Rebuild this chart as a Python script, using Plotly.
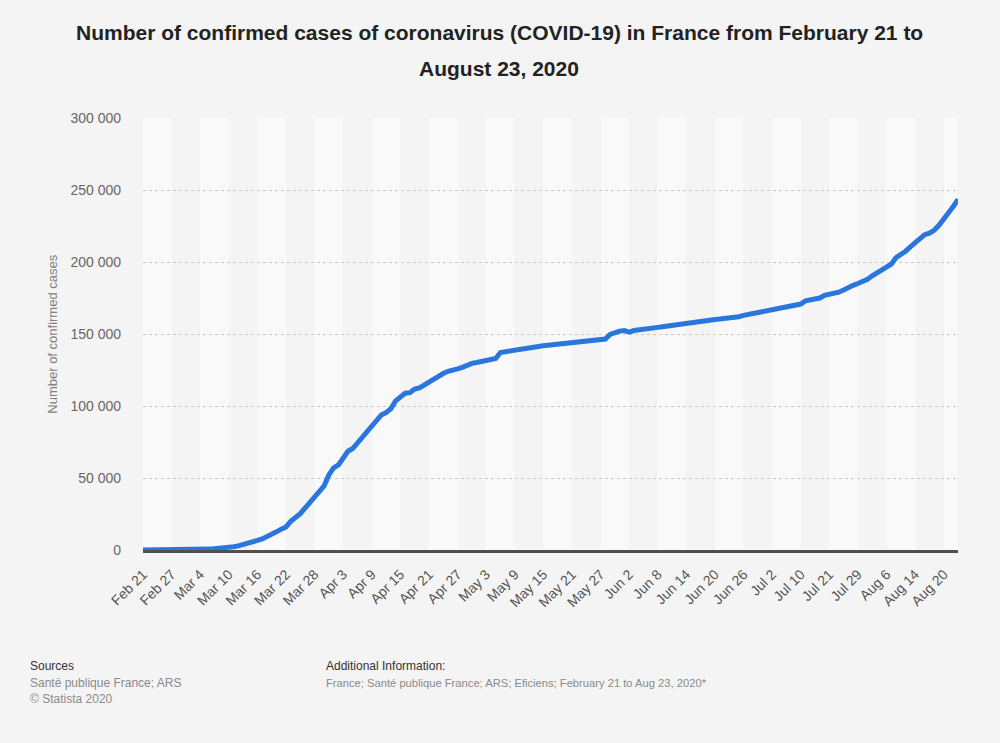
import plotly.graph_objects as go

dates = [
    "Feb 21", "Feb 22", "Feb 23", "Feb 24", "Feb 25", "Feb 26", "Feb 27", "Feb 28", "Feb 29",
    "Mar 1", "Mar 2", "Mar 3", "Mar 4", "Mar 5", "Mar 6", "Mar 7", "Mar 8", "Mar 9", "Mar 10",
    "Mar 11", "Mar 12", "Mar 13", "Mar 14", "Mar 15", "Mar 16", "Mar 17", "Mar 18", "Mar 19", "Mar 20",
    "Mar 21", "Mar 22", "Mar 23", "Mar 24", "Mar 25", "Mar 26", "Mar 27", "Mar 28", "Mar 29", "Mar 30", "Mar 31",
    "Apr 1", "Apr 2", "Apr 3", "Apr 4", "Apr 5", "Apr 6", "Apr 7", "Apr 8", "Apr 9", "Apr 10",
    "Apr 11", "Apr 12", "Apr 13", "Apr 14", "Apr 15", "Apr 16", "Apr 17", "Apr 18", "Apr 19", "Apr 20",
    "Apr 21", "Apr 22", "Apr 23", "Apr 24", "Apr 25", "Apr 26", "Apr 27", "Apr 28", "Apr 29", "Apr 30",
    "May 1", "May 2", "May 3", "May 4", "May 5", "May 6", "May 7", "May 8", "May 9", "May 10",
    "May 11", "May 12", "May 13", "May 14", "May 15", "May 16", "May 17", "May 18", "May 19", "May 20",
    "May 21", "May 22", "May 23", "May 24", "May 25", "May 26", "May 27", "May 28", "May 29", "May 30", "May 31",
    "Jun 1", "Jun 2", "Jun 3", "Jun 4", "Jun 5", "Jun 6", "Jun 7", "Jun 8", "Jun 9", "Jun 10",
    "Jun 11", "Jun 12", "Jun 13", "Jun 14", "Jun 15", "Jun 16", "Jun 17", "Jun 18", "Jun 19", "Jun 20",
    "Jun 21", "Jun 22", "Jun 23", "Jun 24", "Jun 25", "Jun 26", "Jun 27", "Jun 28", "Jun 29", "Jun 30",
    "Jul 1", "Jul 2",
    "Jul 3", "Jul 6", "Jul 7", "Jul 8", "Jul 9", "Jul 10",
    "Jul 13", "Jul 15", "Jul 16", "Jul 17", "Jul 20", "Jul 21",
    "Jul 22", "Jul 23", "Jul 24", "Jul 27", "Jul 28", "Jul 29",
    "Jul 30", "Jul 31", "Aug 3", "Aug 4", "Aug 5", "Aug 6",
    "Aug 7", "Aug 10", "Aug 11", "Aug 12", "Aug 13", "Aug 14",
    "Aug 15", "Aug 16", "Aug 17", "Aug 18", "Aug 19", "Aug 20",
    "Aug 21", "Aug 22", "Aug 23",
]

cases = [
    12, 12, 12, 12, 14, 18, 38, 57, 100,
    130, 191, 212, 285, 423, 613, 949, 1126, 1412, 1784,
    2281, 2876, 3661, 4499, 5423, 6633, 7730, 9134, 10995, 12612,
    14459, 16018, 19856, 22302, 25233, 29155, 32964, 37575, 40174, 44550, 52128,
    56989, 59105, 64338, 68605, 70478, 74390, 78167, 82048, 86334, 90276,
    93790, 95403, 98076, 103573, 106206, 108847, 109252, 111821, 112606, 114657,
    117324, 119151, 120804, 122577, 124114, 124575, 125770, 126835, 128339, 129581,
    130185, 130979, 131287, 131863, 132967, 137150, 137779, 138421, 138854, 139063,
    139519, 140227, 140734, 141356, 141919, 142291, 142411, 142903, 143427, 143845,
    144163, 144556, 144806, 145279, 145555, 145746, 146122, 146476, 149700, 151300, 152000,
    152400, 151300, 152400, 153000, 153600, 154000, 154200, 154600, 155100, 155600,
    156300, 156800, 157200, 157400, 157700, 158200, 158600, 159400, 159800, 160100,
    160400, 160700, 161300, 161300, 162000, 162900, 163600, 164100, 164300, 164800,
    165700, 166400,
    167500, 168300, 168800, 169500, 170300, 170800,
    173000, 173800, 174300, 175000, 176800, 177300,
    178100, 179000, 180500, 182600, 183800, 185100,
    186600, 187900, 190400, 192300, 194400, 196200,
    198500, 203000, 205000, 207500, 210500, 213500,
    216000, 219000, 220000, 222000, 225500, 229500,
    234000, 238500, 243500,
]

y_ticks = [0, 50000, 100000, 150000, 200000, 250000, 300000]
tick_step = 6

title_lines = [
    "Number of confirmed cases of coronavirus (COVID-19) in France from February 21 to",
    "August 23, 2020",
]

FONT = "Liberation Sans, Arial, sans-serif"
BG = "#f4f4f4"
idx = list(range(len(dates)))
last = len(dates) - 1

fig = go.Figure()
fig.add_trace(go.Scatter(
    x=idx, y=cases, mode="lines",
    line=dict(color="#2a76dd", width=5, shape="linear"),
    customdata=dates,
    hovertemplate="%{customdata}: %{y:,}<extra></extra>",
))

shapes = []
for start in range(0, last, tick_step * 2):
    shapes.append(dict(
        type="rect", xref="x", yref="paper",
        x0=start, x1=min(start + tick_step, last), y0=0, y1=1,
        fillcolor="#f9f9f9", line=dict(width=0), layer="below",
    ))

annotations = [
    dict(text="<b>" + title_lines[0] + "</b>", xref="paper", yref="paper",
         x=0.437, y=1.199, xanchor="center", yanchor="middle", showarrow=False,
         font=dict(family=FONT, size=21, color="#222222")),
    dict(text="<b>" + title_lines[1] + "</b>", xref="paper", yref="paper",
         x=0.437, y=1.1157, xanchor="center", yanchor="middle", showarrow=False,
         font=dict(family=FONT, size=21, color="#222222")),
    dict(text="Number of confirmed cases", textangle=-90, xref="paper", yref="paper",
         x=-0.112, y=0.5, xanchor="center", yanchor="middle", showarrow=False,
         font=dict(family=FONT, size=13, color="#808080")),
    dict(text="Sources", xref="paper", yref="paper", x=-0.1405, y=-0.268,
         xanchor="left", yanchor="middle", showarrow=False,
         font=dict(family=FONT, size=12, color="#333333")),
    dict(text="Santé publique France; ARS", xref="paper", yref="paper", x=-0.1405, y=-0.307,
         xanchor="left", yanchor="middle", showarrow=False,
         font=dict(family=FONT, size=12, color="#8a8a8a")),
    dict(text="© Statista 2020", xref="paper", yref="paper", x=-0.1405, y=-0.346,
         xanchor="left", yanchor="middle", showarrow=False,
         font=dict(family=FONT, size=12, color="#8a8a8a")),
    dict(text="Additional Information:", xref="paper", yref="paper", x=0.222, y=-0.268,
         xanchor="left", yanchor="middle", showarrow=False,
         font=dict(family=FONT, size=12, color="#333333")),
    dict(text="France; Santé publique France; ARS; Eficiens; February 21 to Aug 23, 2020*",
         xref="paper", yref="paper", x=0.222, y=-0.307,
         xanchor="left", yanchor="middle", showarrow=False,
         font=dict(family=FONT, size=11.2, color="#8a8a8a")),
]

fig.update_layout(
    width=1000, height=743,
    margin=dict(l=143, r=42, t=118, b=193, autoexpand=False),
    paper_bgcolor=BG, plot_bgcolor=BG,
    separators=". ",
    showlegend=False,
    shapes=shapes,
    annotations=annotations,
    xaxis=dict(
        range=[0, last], showgrid=False, zeroline=False,
        tickvals=idx[::tick_step], ticktext=dates[::tick_step],
        tickangle=-45, tickfont=dict(family=FONT, size=14, color="#555555"),
        ticklabelstandoff=8,
        showline=True, linecolor="#505050", linewidth=2.5,
        ticks="", fixedrange=True,
    ),
    yaxis=dict(
        range=[0, 300000], tickvals=y_ticks, tickformat=",d",
        showgrid=True, gridcolor="#c8c8c8", gridwidth=1, griddash="dot",
        zeroline=False, showline=False,
        tickfont=dict(family=FONT, size=14, color="#666666"),
        ticklabelstandoff=21, fixedrange=True,
    ),
)

fig.write_html(
    "out.html",
    config={"displayModeBar": False},
    post_script="document.body.style.margin='0px';document.body.style.backgroundColor='" + BG + "';",
)
